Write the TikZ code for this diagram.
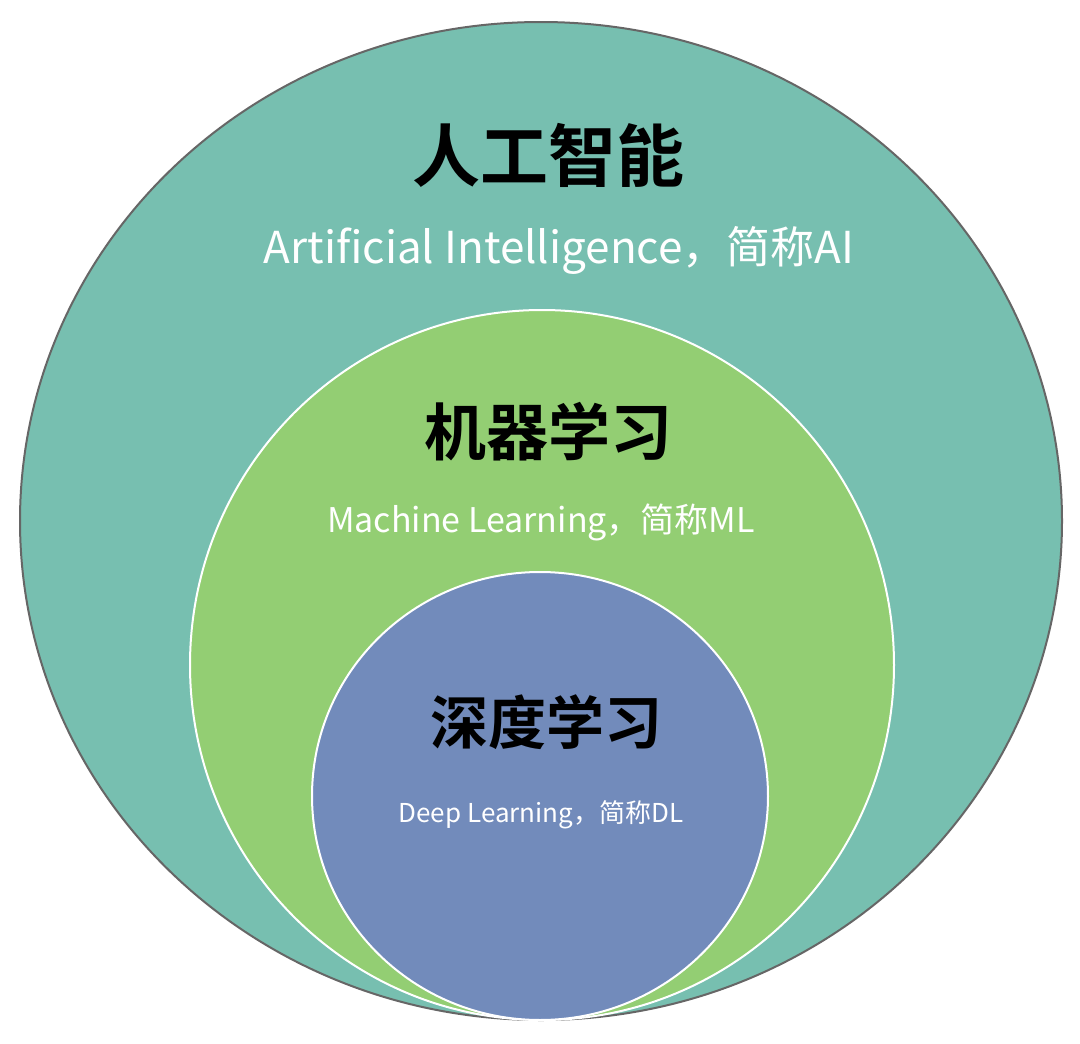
\documentclass[tikz,border=0pt]{standalone}
\usepackage{fontspec}
\setmainfont{Noto Sans CJK SC}
\newfontfamily\cjkbold{Noto Sans CJK SC Bold}
\definecolor{aiteal}{HTML}{77BFB0}
\definecolor{mlgreen}{HTML}{93CE73}
\definecolor{dlblue}{HTML}{728BBB}
\begin{document}
\begin{tikzpicture}[x=1pt, y=-1pt,
    title/.style={font=\cjkbold, text=black},
    subtitle/.style={text=white}]

    \useasboundingbox (0,0) rectangle (1080,1044);
    \fill[white] (0,0) rectangle (1080,1044);

    % Circles
    \filldraw[fill=aiteal, draw=black!60, line width=2pt] (541,521) ellipse [x radius=521, y radius=499];
    \filldraw[fill=mlgreen, draw=white, line width=2pt] (542,665) ellipse [x radius=352, y radius=355];
    \filldraw[fill=dlblue, draw=white, line width=2pt] (540,796) ellipse [x radius=228, y radius=224];

    % Labels
    \node[title, font=\cjkbold\fontsize{68}{80}\selectfont] (ai) at (548,155) {人工智能};
    \node[subtitle, font=\fontsize{44}{52}\selectfont] (aisub) at (559,250) {Artificial Intelligence，简称AI};
    \node[title, font=\cjkbold\fontsize{62}{72}\selectfont] (ml) at (548,432) {机器学习};
    \node[subtitle, font=\fontsize{34}{40}\selectfont] (mlsub) at (541,522) {Machine Learning，简称ML};
    \node[title, font=\cjkbold\fontsize{58}{68}\selectfont] (dl) at (546,722) {深度学习};
    \node[subtitle, font=\fontsize{26}{32}\selectfont] (dlsub) at (541,815) {Deep Learning，简称DL};
\end{tikzpicture}
\end{document}
